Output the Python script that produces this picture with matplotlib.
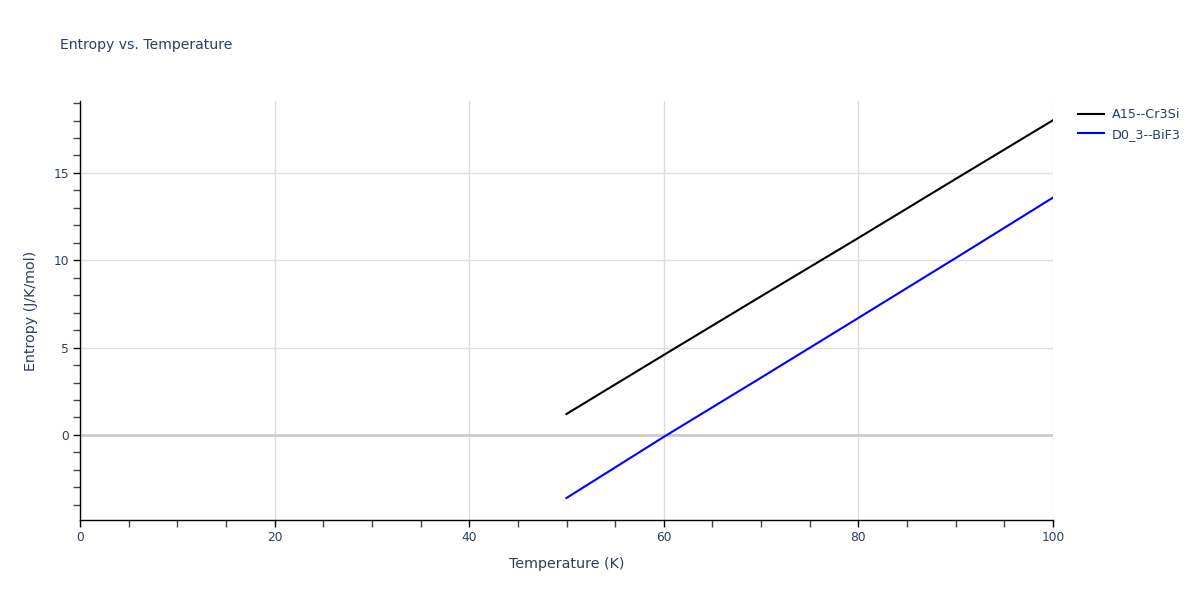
import matplotlib
matplotlib.use("Agg")
import matplotlib.pyplot as plt
from matplotlib.ticker import MultipleLocator

# values
temperature = [50, 60, 70, 80, 90, 100]
s_a15 = [1.20, 4.58, 7.94, 11.28, 14.66, 18.02]
s_d03 = [-3.61, -0.11, 3.28, 6.70, 10.13, 13.59]
series_names = ["A15--Cr3Si", "D0_3--BiF3"]
series_colors = ["#000000", "#0000ff"]

text_col = "#2a3f5f"
grid_col = "#dddddd"

plt.rcParams["font.family"] = ["DejaVu Sans"]

fig = plt.figure(figsize=(12, 6), dpi=100)
ax = fig.add_axes([80 / 1200, 80 / 600, 973 / 1200, 419 / 600])

for ys, name, col in zip([s_a15, s_d03], series_names, series_colors):
    ax.plot(temperature, ys, color=col, lw=1.5, label=name)

ax.set_xlim(0, 100)
ax.set_ylim(-4.87, 19.12)

ax.xaxis.set_major_locator(MultipleLocator(20))
ax.xaxis.set_minor_locator(MultipleLocator(5))
ax.yaxis.set_major_locator(MultipleLocator(5))
ax.yaxis.set_minor_locator(MultipleLocator(1))

ax.grid(True, which="major", color=grid_col, lw=1)
ax.axhline(0, color="#cccccc", lw=2, zorder=1)
ax.set_axisbelow(True)

for s in ["top", "right"]:
    ax.spines[s].set_visible(False)
for s in ["left", "bottom"]:
    ax.spines[s].set_color("#000000")
    ax.spines[s].set_linewidth(1)

ax.tick_params(which="major", direction="out", length=5, width=1, color="#000000",
               labelsize=8.8, labelcolor=text_col, pad=3)
ax.tick_params(which="minor", direction="out", length=5, width=1, color="#444444")

ax.set_xlabel("Temperature (K)", fontsize=10.3, color=text_col, labelpad=9)
ax.set_ylabel("Entropy (J/K/mol)", fontsize=10.3, color=text_col, labelpad=11)

fig.text(60 / 1200, 1 - 45 / 600, "Entropy vs. Temperature", fontsize=10.1,
         color=text_col, va="center", ha="left")

leg = ax.legend(loc="upper left", bbox_to_anchor=(1.02, 0.995), frameon=False,
                fontsize=9.2, handlelength=2.1, handletextpad=0.55,
                labelspacing=0.5, borderaxespad=0)
for t in leg.get_texts():
    t.set_color(text_col)

fig.savefig("out.png", dpi=100)
